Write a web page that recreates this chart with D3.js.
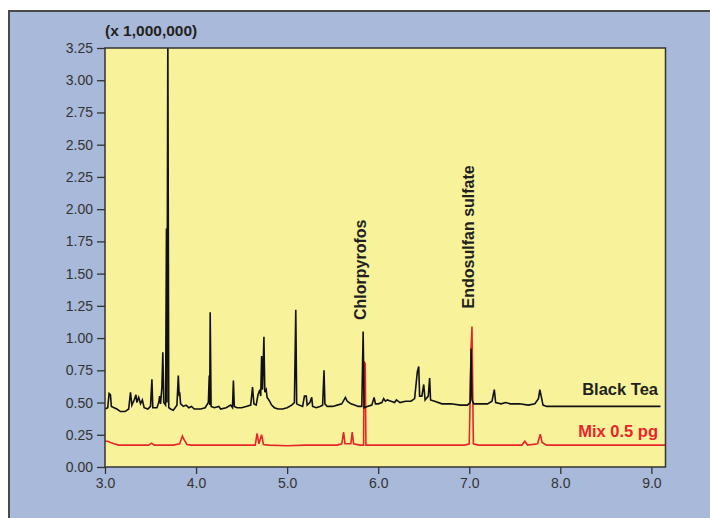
<!DOCTYPE html>
<html>
<head>
<meta charset="utf-8">
<script src="https://cdn.jsdelivr.net/npm/d3@7"></script>
<style>
  body { margin: 0; background: #fff; }
  text { font-family: "Liberation Sans", Arial, sans-serif; }
</style>
</head>
<body>
<svg id="chart" width="710" height="518"></svg>
<script>
// Chromatogram traces: [retention time (min), abundance (x 1,000,000)]
const blackTea = [
  [3.00,0.45],[3.03,0.46],[3.045,0.57],[3.06,0.56],[3.07,0.47],[3.10,0.46],[3.13,0.45],[3.17,0.43],
  [3.22,0.43],[3.26,0.45],[3.28,0.58],[3.295,0.48],[3.32,0.52],[3.34,0.56],[3.35,0.50],[3.37,0.54],
  [3.39,0.49],[3.41,0.52],[3.43,0.46],[3.47,0.45],[3.50,0.47],[3.515,0.68],[3.525,0.46],[3.57,0.46],
  [3.59,0.50],[3.60,0.55],[3.61,0.49],[3.625,0.62],[3.635,0.89],[3.645,0.50],[3.665,0.48],[3.675,1.85],
  [3.68,0.50],[3.69,3.40],[3.70,0.46],[3.72,0.45],[3.75,0.44],[3.79,0.48],[3.805,0.71],[3.815,0.55],
  [3.82,0.58],[3.83,0.49],[3.86,0.47],[3.89,0.48],[3.92,0.46],[3.95,0.47],[3.98,0.45],[4.05,0.45],
  [4.10,0.46],[4.135,0.50],[4.145,0.71],[4.15,0.48],[4.155,1.20],[4.165,0.47],[4.20,0.46],[4.25,0.47],
  [4.27,0.45],[4.33,0.46],[4.38,0.48],[4.40,0.46],[4.41,0.67],[4.42,0.47],[4.45,0.46],[4.50,0.46],
  [4.55,0.47],[4.60,0.48],[4.62,0.62],[4.635,0.49],[4.66,0.48],[4.68,0.56],[4.70,0.60],[4.71,0.55],
  [4.72,0.86],[4.73,0.60],[4.745,1.01],[4.755,0.58],[4.77,0.60],[4.78,0.54],[4.80,0.52],[4.83,0.48],
  [4.86,0.46],[4.90,0.45],[4.95,0.45],[5.00,0.46],[5.05,0.48],[5.08,0.50],[5.095,1.22],[5.105,0.49],
  [5.13,0.48],[5.17,0.47],[5.19,0.55],[5.21,0.55],[5.22,0.48],[5.25,0.50],[5.27,0.54],[5.28,0.47],
  [5.32,0.46],[5.36,0.47],[5.39,0.48],[5.405,0.75],[5.415,0.49],[5.44,0.47],[5.50,0.47],[5.55,0.48],
  [5.60,0.49],[5.64,0.54],[5.66,0.51],[5.70,0.49],[5.74,0.48],[5.78,0.47],[5.82,0.47],[5.835,1.05],
  [5.845,0.46],[5.88,0.47],[5.93,0.48],[5.955,0.54],[5.97,0.49],[6.00,0.49],[6.04,0.50],[6.06,0.53],
  [6.08,0.51],[6.10,0.52],[6.14,0.51],[6.18,0.50],[6.20,0.52],[6.24,0.50],[6.30,0.51],[6.36,0.51],
  [6.40,0.53],[6.43,0.74],[6.445,0.78],[6.455,0.55],[6.48,0.55],[6.50,0.64],[6.515,0.52],[6.55,0.55],
  [6.565,0.69],[6.575,0.52],[6.62,0.51],[6.70,0.49],[6.80,0.49],[6.90,0.48],[6.98,0.48],[7.01,0.50],
  [7.02,0.92],[7.03,0.52],[7.05,0.49],[7.10,0.49],[7.20,0.49],[7.25,0.51],[7.275,0.60],[7.29,0.50],
  [7.35,0.49],[7.40,0.50],[7.45,0.49],[7.55,0.49],[7.65,0.48],[7.72,0.49],[7.76,0.53],[7.775,0.60],
  [7.79,0.55],[7.81,0.48],[7.85,0.47],[8.00,0.47],[8.20,0.47],[8.50,0.47],[8.80,0.47],[9.10,0.47]
];

const mix05pg = [
  [3.00,0.20],[3.03,0.20],[3.06,0.19],[3.10,0.18],[3.15,0.17],[3.20,0.17],[3.30,0.17],[3.40,0.17],
  [3.48,0.17],[3.51,0.185],[3.54,0.17],[3.65,0.17],[3.75,0.17],[3.82,0.18],[3.85,0.24],[3.87,0.21],
  [3.90,0.175],[3.95,0.17],[4.10,0.17],[4.30,0.17],[4.50,0.17],[4.65,0.17],[4.67,0.26],[4.69,0.18],
  [4.72,0.25],[4.74,0.175],[4.80,0.17],[5.00,0.165],[5.20,0.17],[5.40,0.17],[5.55,0.17],[5.60,0.18],
  [5.62,0.27],[5.635,0.18],[5.70,0.18],[5.715,0.27],[5.73,0.18],[5.80,0.17],[5.84,0.17],[5.845,0.82],
  [5.858,0.80],[5.865,0.17],[5.95,0.17],[6.20,0.17],[6.50,0.17],[6.80,0.17],[6.95,0.17],[7.00,0.18],
  [7.02,0.92],[7.03,1.09],[7.045,0.18],[7.10,0.17],[7.40,0.17],[7.58,0.17],[7.61,0.20],[7.64,0.17],
  [7.75,0.18],[7.78,0.255],[7.80,0.19],[7.85,0.17],[8.20,0.17],[8.60,0.17],[9.15,0.17]
];

const yTicks = [0, 0.25, 0.5, 0.75, 1.0, 1.25, 1.5, 1.75, 2.0, 2.25, 2.5, 2.75, 3.0, 3.25];
const xTicks = [3, 4, 5, 6, 7, 8, 9];
const peakLabels = [
  { name: "Chlorpyrofos", t: 5.835, v: 1.14 },
  { name: "Endosulfan sulfate", t: 7.03, v: 1.23 }
];
const seriesLabels = [
  { name: "Black Tea", v: 0.56, color: "#231f20" },
  { name: "Mix 0.5 pg", v: 0.235, color: "#e8242b" }
];

const plot = { left: 105, top: 48, right: 665.5, bottom: 467 };
const svg = d3.select("#chart");

// Outer blue panel
svg.append("rect")
  .attr("x", 9).attr("y", 11)
  .attr("width", 720).attr("height", 520)
  .attr("fill", "#a9b9d9")
  .attr("stroke", "#4a4a4a")
  .attr("stroke-width", 2);

const x = d3.scaleLinear().domain([3.0, 9.155]).range([plot.left, plot.right]);
const y = d3.scaleLinear().domain([0, 3.25]).range([plot.bottom, plot.top]);

// Yellow plot area
svg.append("rect")
  .attr("x", plot.left).attr("y", plot.top)
  .attr("width", plot.right - plot.left).attr("height", plot.bottom - plot.top)
  .attr("fill", "#f8f39b");

svg.append("clipPath").attr("id", "clip")
  .append("rect")
  .attr("x", plot.left).attr("y", plot.top)
  .attr("width", plot.right - plot.left).attr("height", plot.bottom - plot.top);

const line = d3.line().x(d => x(d[0])).y(d => y(d[1]));

const traces = svg.append("g").attr("clip-path", "url(#clip)");
traces.append("path")
  .datum(mix05pg)
  .attr("fill", "none")
  .attr("stroke", "#e8242b")
  .attr("stroke-width", 1.6)
  .attr("d", line);
traces.append("path")
  .datum(blackTea)
  .attr("fill", "none")
  .attr("stroke", "#111")
  .attr("stroke-width", 1.6)
  .attr("d", line);

// Plot frame
svg.append("rect")
  .attr("x", plot.left).attr("y", plot.top)
  .attr("width", plot.right - plot.left).attr("height", plot.bottom - plot.top)
  .attr("fill", "none")
  .attr("stroke", "#333")
  .attr("stroke-width", 1.5);

// Axes
const yAxis = svg.append("g")
  .attr("transform", `translate(${plot.left},0)`)
  .call(d3.axisLeft(y).tickValues(yTicks).tickFormat(d3.format(".2f")).tickSize(8).tickPadding(4));
const xAxis = svg.append("g")
  .attr("transform", `translate(0,${plot.bottom})`)
  .call(d3.axisBottom(x).tickValues(xTicks).tickFormat(d3.format(".1f")).tickSize(7).tickPadding(4));

[yAxis, xAxis].forEach(a => {
  a.select(".domain").remove();
  a.selectAll(".tick line").attr("stroke", "#333").attr("stroke-width", 1.3);
  a.selectAll(".tick text")
    .attr("fill", "#333")
    .style("font-size", "14px")
    .style("font-family", "'Liberation Sans', Arial, sans-serif");
});

svg.append("text")
  .attr("x", plot.left).attr("y", 36)
  .attr("font-size", "15.5px").attr("font-weight", "bold").attr("fill", "#231f20")
  .text("(x 1,000,000)");

// Peak labels (rotated)
svg.selectAll(".peak-label")
  .data(peakLabels)
  .enter().append("text")
  .attr("class", "peak-label")
  .attr("transform", d => `translate(${x(d.t) + 2.5},${y(d.v)}) rotate(-90)`)
  .attr("font-size", "16px").attr("font-weight", "bold").attr("fill", "#231f20")
  .text(d => d.name);

// Series labels
svg.selectAll(".series-label")
  .data(seriesLabels)
  .enter().append("text")
  .attr("class", "series-label")
  .attr("x", 658).attr("y", d => y(d.v))
  .attr("text-anchor", "end")
  .attr("font-size", "16.5px").attr("font-weight", "bold")
  .attr("fill", d => d.color)
  .text(d => d.name);
</script>
</body>
</html>
